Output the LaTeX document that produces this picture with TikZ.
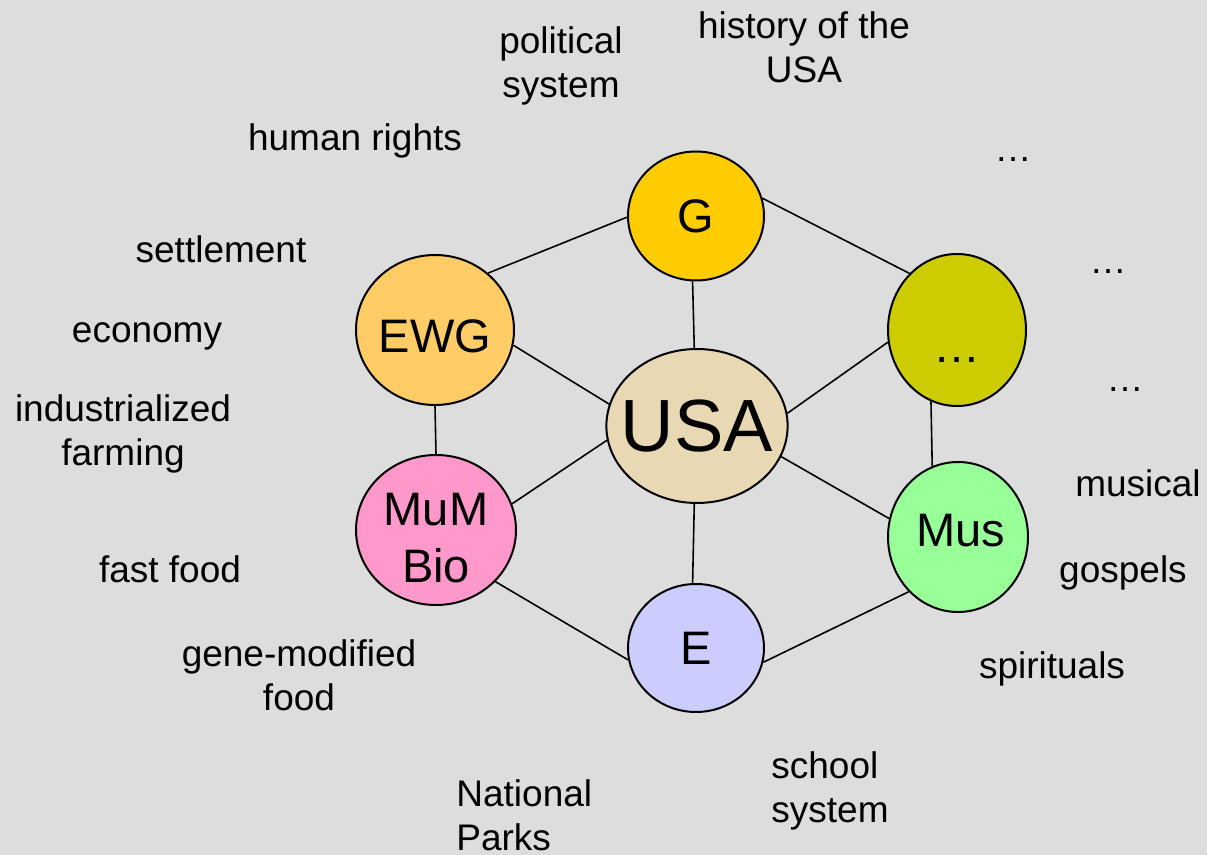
\documentclass[tikz,border=0pt]{standalone}
\usepackage{fontspec}
\setmainfont{Liberation Sans}
\usetikzlibrary{shapes.geometric}
\definecolor{bg}{HTML}{DDDDDD}
\definecolor{gold}{HTML}{FFCC00}
\definecolor{apricot}{HTML}{FFCC66}
\definecolor{olive}{HTML}{CCCC00}
\definecolor{tan}{HTML}{E8D8B4}
\definecolor{pink}{HTML}{FF99CC}
\definecolor{mint}{HTML}{99FF99}
\definecolor{lilac}{HTML}{CCCCFF}
\tikzset{
  subject/.style={ellipse,draw,line width=1pt,inner sep=-4pt,
    font=\fontsize{23.5}{28.5}\selectfont},
  topic/.style={align=center,inner sep=0pt,font=\fontsize{18.5}{22}\selectfont},
}
\begin{document}
\begin{tikzpicture}[x=0.5pt,y=-0.5pt]
      \fill[bg] (0,0) rectangle (1207,855);
      \useasboundingbox (0,0) rectangle (1207,855);
      \draw
        (696,216) node[subject,fill=gold,minimum width=68pt,minimum height=64.5pt] (G){G}
        (435,330) node[subject,fill=apricot,minimum width=79pt,minimum height=75pt,text height=22.8pt,text depth=0pt] (EWG){EWG}
        (957,330) node[subject,fill=olive,minimum width=69pt,minimum height=76pt,text height=33pt,text depth=0pt] (dots){…}
        (697,426) node[subject,fill=tan,minimum width=90pt,minimum height=77pt,inner xsep=-6pt,font=\fontsize{37}{40}\selectfont] (USA){USA}
        (436,530) node[subject,fill=pink,minimum width=80pt,minimum height=75pt,align=center,text height=53pt,text depth=0pt] (MuM){MuM\\Bio}
        (958,537) node[subject,fill=mint,minimum width=70pt,minimum height=75pt,text height=16.8pt,text depth=7pt] (Mus){\hspace{3pt}Mus}
        (696,648) node[subject,fill=lilac,minimum width=68pt,minimum height=64pt] (E){E};
      \begin{scope}[-,line width=0.8pt]
        \draw (G.181) to (EWG.47);
        \draw (G.15) to (dots.130);
        \draw (G.267) to (USA.92);
        \draw (EWG.349) to (USA.166);
        \draw (EWG.south) to (MuM.north);
        \draw (dots.190) to (USA.8);
        \draw (dots.250) to (Mus.110);
        \draw (USA.189) to (MuM.19);
        \draw (USA.340) to (Mus.165);
        \draw (USA.268) to (E.93);
        \draw (MuM.319) to (E.190);
        \draw (Mus.228) to (E.348);
      \end{scope}
      \path
        (561,66) node[topic] (political){political\\system}
        (804,47) node[topic] (history){history of the\\USA}
        (355,141) node[topic] (rights){human rights}
        (1013,160) node[topic] (more1){…}
        (221,249) node[topic] (settlement){settlement}
        (1108,272) node[topic] (more2){…}
        (147,336) node[topic] (economy){economy}
        (1125,390) node[topic] (more3){…}
        (123,434) node[topic] (farming){industrialized\\farming}
        (1138,483) node[topic] (musical){musical}
        (170,569) node[topic] (fastfood){fast food}
        (1123,573) node[topic] (gospels){gospels}
        (299,675) node[topic] (genefood){gene-modified\\food}
        (1052,669) node[topic] (spirituals){spirituals}
        (771,791) node[topic,anchor=west,align=left] (school){school\\system}
        (456,815) node[topic,anchor=west,align=left] (parks){National\\Parks};
    \end{tikzpicture}
\end{document}
